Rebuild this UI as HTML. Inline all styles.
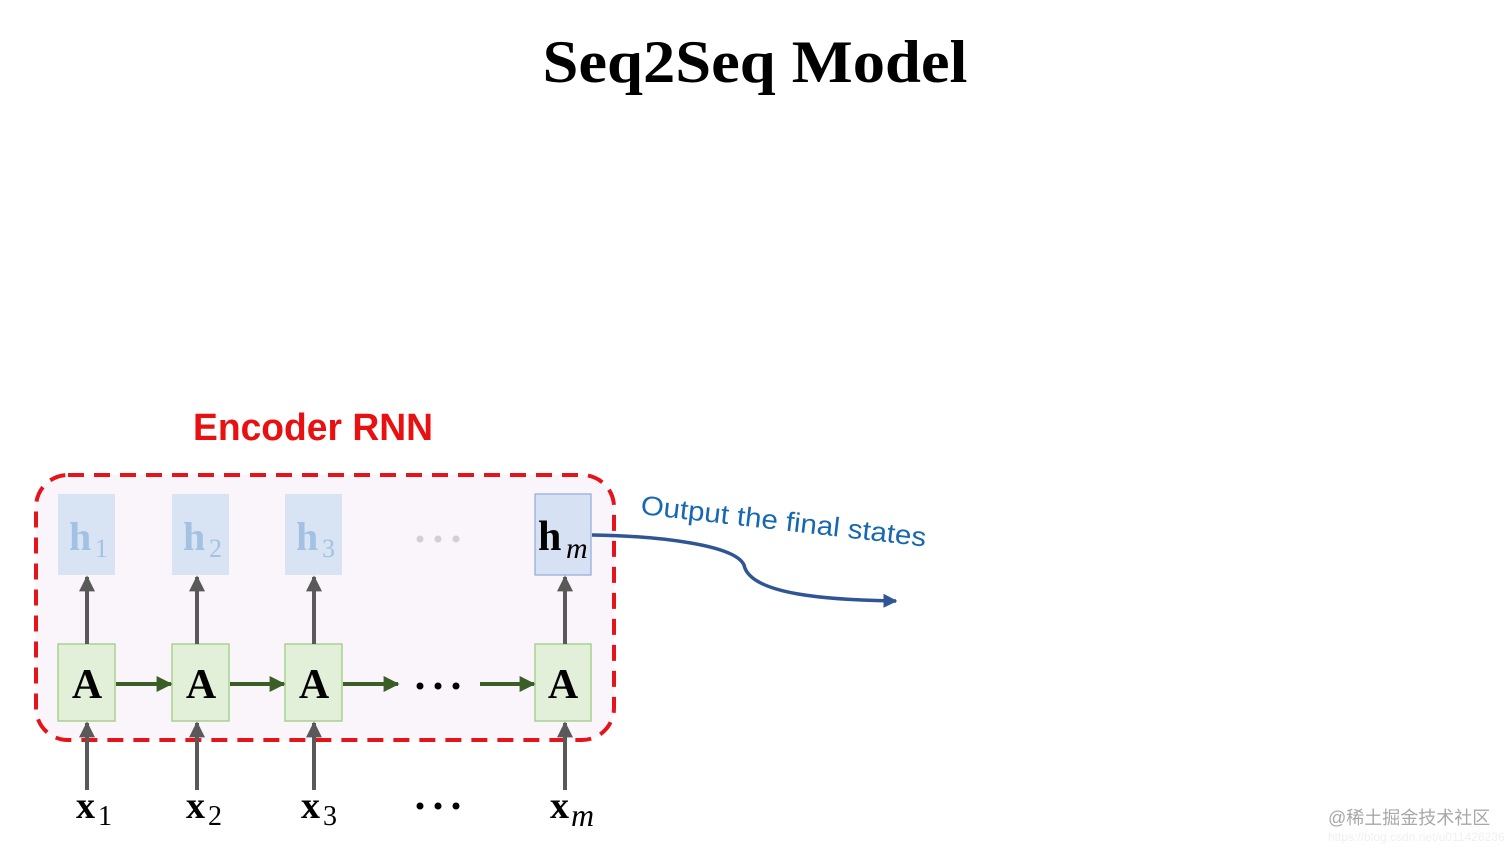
<!DOCTYPE html>
<html><head><meta charset="utf-8"><style>
html,body{margin:0;padding:0;background:#fff;}
svg{display:block;}
</style></head><body>
<svg width="1512" height="851" viewBox="0 0 1512 851" xmlns="http://www.w3.org/2000/svg">
<defs>
<marker id="ag" viewBox="0 0 10 10" refX="9" refY="5" markerWidth="4" markerHeight="4" orient="auto"><path d="M0,0 L10,5 L0,10 z" fill="#595959"/></marker>
<marker id="agr" viewBox="0 0 10 10" refX="9" refY="5" markerWidth="4" markerHeight="4" orient="auto"><path d="M0,0 L10,5 L0,10 z" fill="#3a5e26"/></marker>
<marker id="ab" viewBox="0 0 10 10" refX="9" refY="5" markerWidth="4" markerHeight="4" orient="auto"><path d="M0,0 L10,5 L0,10 z" fill="#2f5597"/></marker>
</defs>
<text x="755" y="82" text-anchor="middle" font-family="Liberation Serif, serif" font-weight="bold" font-size="60" textLength="425" lengthAdjust="spacingAndGlyphs">Seq2Seq Model</text>
<text x="313" y="440" text-anchor="middle" font-family="Liberation Sans, sans-serif" font-weight="bold" font-size="38" fill="#e81010" textLength="240" lengthAdjust="spacingAndGlyphs">Encoder RNN</text>
<rect x="36" y="475" width="578" height="265" rx="32" fill="#f9f5fa" stroke="#e5141b" stroke-width="4" stroke-dasharray="16,10"/>
<g fill="#d8e3f3">
<rect x="58" y="494" width="57" height="81"/>
<rect x="172" y="494" width="57" height="81"/>
<rect x="285" y="494" width="57" height="81"/>
</g>
<rect x="535" y="494" width="56" height="81" fill="#d6e1f3" stroke="#8faadc" stroke-width="1.2"/>
<g font-family="Liberation Serif, serif" font-size="40" font-weight="bold" fill="#a3c2e3">
<text x="69" y="550">h</text><text x="183" y="550">h</text><text x="296" y="550">h</text>
</g>
<g font-family="Liberation Serif, serif" font-size="26" fill="#a3c2e3">
<text x="95" y="557">1</text><text x="209" y="557">2</text><text x="322" y="557">3</text>
</g>
<text x="538" y="550" font-family="Liberation Serif, serif" font-size="42" font-weight="bold">h</text>
<text x="566" y="558" font-family="Liberation Serif, serif" font-size="30" font-style="italic">m</text>
<g fill="#d0d0d8"><circle cx="420" cy="539" r="3.5"/><circle cx="438" cy="539" r="3.5"/><circle cx="456" cy="539" r="3.5"/></g>
<g fill="#e2f0d9" stroke="#a9d18e" stroke-width="1.5">
<rect x="58" y="644" width="57" height="77"/>
<rect x="172" y="644" width="57" height="77"/>
<rect x="285" y="644" width="57" height="77"/>
<rect x="535" y="644" width="56" height="77"/>
</g>
<g font-family="Liberation Serif, serif" font-size="42" font-weight="bold" text-anchor="middle">
<text x="87" y="698">A</text><text x="201" y="698">A</text><text x="314" y="698">A</text><text x="563" y="698">A</text>
</g>
<g stroke="#3a5e26" stroke-width="4" marker-end="url(#agr)">
<line x1="116" y1="684" x2="171" y2="684"/>
<line x1="230" y1="684" x2="284" y2="684"/>
<line x1="343" y1="684" x2="398" y2="684"/>
<line x1="480" y1="684" x2="534" y2="684"/>
</g>
<g fill="#000"><circle cx="420" cy="686" r="3.5"/><circle cx="438" cy="686" r="3.5"/><circle cx="456" cy="686" r="3.5"/></g>
<g stroke="#595959" stroke-width="4" marker-end="url(#ag)">
<line x1="87" y1="644" x2="87" y2="577"/><line x1="197" y1="644" x2="197" y2="577"/><line x1="314" y1="644" x2="314" y2="577"/><line x1="565" y1="644" x2="565" y2="577"/>
<line x1="87" y1="790" x2="87" y2="723"/><line x1="197" y1="790" x2="197" y2="723"/><line x1="314" y1="790" x2="314" y2="723"/><line x1="565" y1="790" x2="565" y2="723"/>
</g>
<g font-family="Liberation Serif, serif">
<text x="76" y="818" font-size="38" font-weight="bold">x</text><text x="98" y="825" font-size="28">1</text>
<text x="186" y="818" font-size="38" font-weight="bold">x</text><text x="208" y="825" font-size="28">2</text>
<text x="301" y="818" font-size="38" font-weight="bold">x</text><text x="323" y="825" font-size="28">3</text>
<text x="550" y="818" font-size="38" font-weight="bold">x</text><text x="571" y="826" font-size="32" font-style="italic">m</text>
</g>
<g fill="#000"><circle cx="420" cy="806" r="3.5"/><circle cx="438" cy="806" r="3.5"/><circle cx="456" cy="806" r="3.5"/></g>
<path d="M592,535 C660,536 735,545 744,565 C750,595 830,600 896,601" fill="none" stroke="#2f5597" stroke-width="3.5" marker-end="url(#ab)"/>
<text x="640" y="514" transform="rotate(6.5 640 514)" font-family="Liberation Sans, sans-serif" font-size="27" fill="#1768b0" textLength="287" lengthAdjust="spacingAndGlyphs">Output the final states</text>
<text x="1328" y="824" font-family="Liberation Sans, Noto Sans CJK SC, sans-serif" font-size="18" fill="#a8a8a8">@稀土掘金技术社区</text>
<text x="1328" y="841" font-family="Liberation Sans, sans-serif" font-size="12" fill="#f0f0f0">https://blog.csdn.net/u011426236</text>
</svg>
</body></html>
